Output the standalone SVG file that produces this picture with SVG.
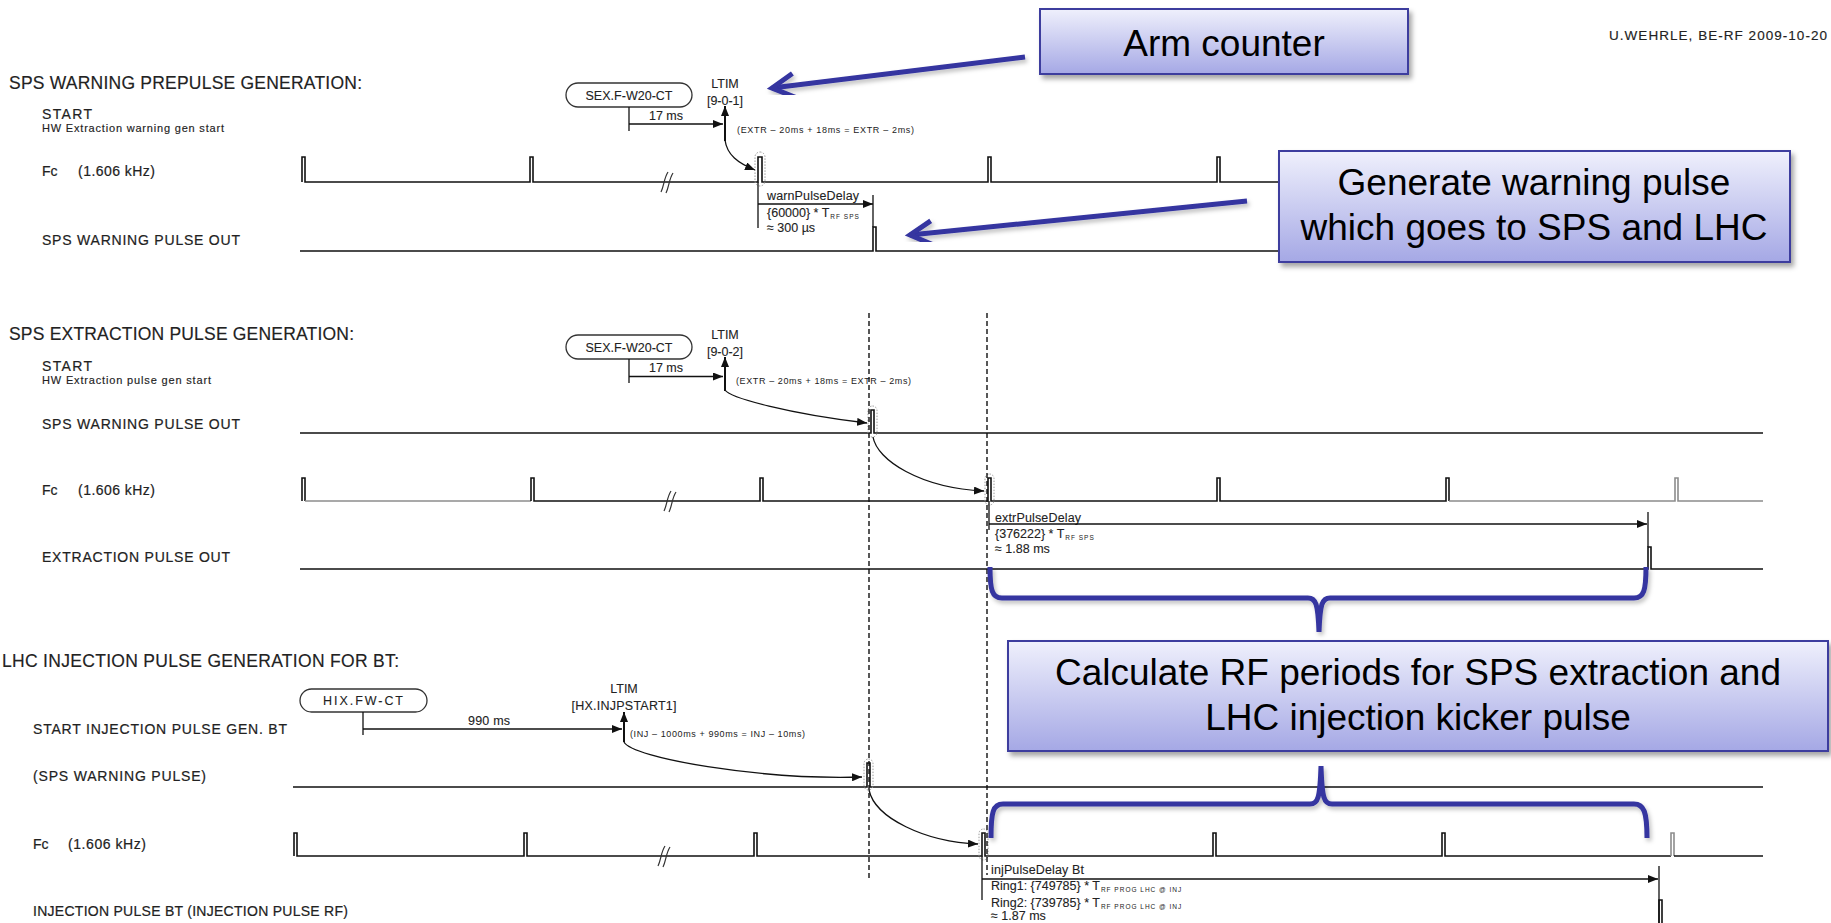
<svg xmlns="http://www.w3.org/2000/svg" width="1831" height="923" viewBox="0 0 1831 923">
<defs>
<style>
text{font-family:"Liberation Sans",Arial,sans-serif;fill:#222}
.hdr{font-size:17.5px;stroke:#222;stroke-width:0.15}
.lbl{font-size:14px;stroke:#222;stroke-width:0.2}
.lbs{font-size:11px;stroke:#222;stroke-width:0.15}
.sm{font-size:12.5px;stroke:#222;stroke-width:0.1}
.xs{font-size:9px}
.sub{font-size:6.5px}
.wide{letter-spacing:1px}
.mid{text-anchor:middle}
.end{text-anchor:end}
.note{font-size:37px;fill:#000;text-anchor:middle}
.wave{fill:none;stroke:#111;stroke-width:1.6}
.wg{fill:none;stroke:#8c8c8c;stroke-width:1.6}
.ln{fill:none;stroke:#111;stroke-width:1.3}
.arr{fill:none;stroke:#111;stroke-width:1.3;marker-end:url(#ah)}
.up{fill:none;stroke:#111;stroke-width:2;marker-end:url(#ah)}
.dash{fill:none;stroke:#111;stroke-width:1.4;stroke-dasharray:5 3}
.halo{fill:none;stroke:#9a9a9a;stroke-width:1;stroke-dasharray:1.5 1.5}
.pill{fill:#fff;stroke:#333;stroke-width:1.3}
.box{fill:url(#bg);stroke:#3d3d9e;stroke-width:2;filter:url(#sh)}
.call{fill:none;stroke:#3434a0;stroke-width:5;filter:url(#sh2)}
.brk{fill:none;stroke:#333;stroke-width:1.2}
</style>
<linearGradient id="bg" x1="0" y1="0" x2="0" y2="1"><stop offset="0" stop-color="#eff0fc"/><stop offset="1" stop-color="#a5a8e5"/></linearGradient>
<filter id="sh" x="-5%" y="-10%" width="115%" height="130%"><feDropShadow dx="3" dy="4" stdDeviation="2.5" flood-color="#000" flood-opacity="0.35"/></filter>
<filter id="sh2" x="-10%" y="-20%" width="120%" height="140%"><feDropShadow dx="2" dy="3" stdDeviation="2" flood-color="#000" flood-opacity="0.25"/></filter>
<marker id="ah" markerUnits="userSpaceOnUse" markerWidth="10" markerHeight="8" refX="10" refY="4" orient="auto" viewBox="0 0 10 8"><path d="M0,0 L10,4 L0,8 z" fill="#111"/></marker>
<marker id="chev" markerUnits="userSpaceOnUse" markerWidth="36" markerHeight="36" refX="28" refY="18" orient="auto" viewBox="0 0 36 36"><path d="M6,6 L28,18 L6,30" fill="none" stroke="#3434a0" stroke-width="5"/></marker>
</defs>
<rect width="1831" height="923" fill="#fff"/>

<g id="author"><text class="lbl end" x="1827" y="40" style="font-size:13.5px;stroke-width:0.15" textLength="218">U.WEHRLE, BE-RF 2009-10-20</text></g>

<!-- Section 1 -->
<g id="sec1-labels">
<text class="hdr" x="9" y="89" textLength="353">SPS WARNING PREPULSE GENERATION:</text>
<text class="lbl" x="42" y="119" textLength="50">START</text>
<text class="lbs" x="42" y="132" textLength="182">HW Extraction warning gen start</text>
<text class="lbl" x="42" y="176">Fc</text><text class="lbl" x="78" y="176" textLength="77">(1.606 kHz)</text>
<text class="lbl" x="42" y="245" textLength="198">SPS WARNING PULSE OUT</text>
</g>
<g id="sec1-pill"><rect class="pill" x="566" y="83" width="126" height="24" rx="12"/><text class="sm mid" x="629" y="100" textLength="87">SEX.F-W20-CT</text></g>
<g id="sec1-ltim"><text class="sm mid" x="725" y="88">LTIM</text><text class="sm mid" x="725" y="105">[9-0-1]</text></g>
<g id="sec1-fc"><path class="wave" d="M302,182 V157 H305 V182 H530 V157 H533 V182 H758 V157 H762 V182 H988 V157 H991 V182 H1217 V157 H1220 V182 H1763"/><rect class="halo" x="755" y="152" width="10" height="34" rx="5"/><path class="brk" d="M661,192 C664,186 664,178 668,172 M666,193 C669,187 669,179 673,173"/></g>
<g id="sec1-warn"><path class="wave" d="M300,251 H873 V227 H876 V251 H1763"/></g>
<g id="sec1-notes">
<text class="xs" x="737" y="133" textLength="177">(EXTR – 20ms + 18ms = EXTR – 2ms)</text>
<text class="sm" x="767" y="200" textLength="92">warnPulseDelay</text>
<text class="sm" x="767" y="217">{60000} * T<tspan class="sub wide" dx="1" dy="2" style="stroke:none">RF SPS</tspan></text>
<text class="sm" x="767" y="232">≈ 300 µs</text>
<text class="sm mid" x="666" y="120">17 ms</text>
</g>

<!-- Section 2 -->
<g id="sec2-labels">
<text class="hdr" x="9" y="340" textLength="345">SPS EXTRACTION PULSE GENERATION:</text>
<text class="lbl" x="42" y="370.5" textLength="50">START</text>
<text class="lbs" x="42" y="384" textLength="169">HW Extraction pulse gen start</text>
<text class="lbl" x="42" y="428.5" textLength="198">SPS WARNING PULSE OUT</text>
<text class="lbl" x="42" y="495">Fc</text><text class="lbl" x="78" y="495" textLength="77">(1.606 kHz)</text>
<text class="lbl" x="42" y="562" textLength="188">EXTRACTION PULSE OUT</text>
</g>
<g id="sec2-pill"><rect class="pill" x="566" y="335" width="126" height="24" rx="12"/><text class="sm mid" x="629" y="352" textLength="87">SEX.F-W20-CT</text></g>
<g id="sec2-ltim"><text class="sm mid" x="725" y="339">LTIM</text><text class="sm mid" x="725" y="356">[9-0-2]</text></g>
<g id="sec2-warn"><path class="wave" d="M300,433 H871 V410 H874 V433 H1763"/><rect class="halo" x="868" y="406" width="9" height="31" rx="4.5"/></g>
<g id="sec2-fc">
<path class="wave" d="M302,501 V478 H305 V501"/>
<path class="wg" d="M305,501 H531"/>
<path class="wave" d="M531,501 V478 H534 V501 H760 V478 H763 V501 H988 V478 H991 V501 H1217 V478 H1220 V501 H1446 V478 H1449 V501"/>
<path class="wg" d="M1449,501 H1675 V478 H1678 V501 H1763"/>
<rect class="halo" x="985" y="474" width="9" height="31" rx="4.5"/>
<path class="brk" d="M664,511 C667,505 667,497 671,491 M669,512 C672,506 672,498 676,492"/>
</g>
<g id="sec2-extr"><path class="wave" d="M300,569 H1648 V547 H1651 V569 H1763"/></g>
<g id="sec2-notes">
<text class="xs" x="736" y="383.5" textLength="175">(EXTR – 20ms + 18ms = EXTR – 2ms)</text>
<text class="sm mid" x="666" y="372">17 ms</text>
<text class="sm" x="995" y="521.5" textLength="86">extrPulseDelay</text>
<text class="sm" x="995" y="538">{376222} * T<tspan class="sub wide" dx="1" dy="2" style="stroke:none">RF SPS</tspan></text>
<text class="sm" x="995" y="553">≈ 1.88 ms</text>
</g>

<!-- Section 3 -->
<g id="sec3-labels">
<text class="hdr" x="2" y="667" textLength="397">LHC INJECTION PULSE GENERATION FOR BT:</text>
<text class="lbl" x="33" y="734" textLength="254">START INJECTION PULSE GEN. BT</text>
<text class="lbl" x="33" y="781" textLength="173">(SPS WARNING PULSE)</text>
<text class="lbl" x="33" y="849">Fc</text><text class="lbl" x="68" y="849" textLength="78">(1.606 kHz)</text>
<text class="lbl" x="33" y="916" textLength="315">INJECTION PULSE BT (INJECTION PULSE RF)</text>
</g>
<g id="sec3-pill"><rect class="pill" x="300" y="689" width="127" height="23" rx="11.5"/><text class="sm mid" x="363" y="705" textLength="80">HIX.FW-CT</text></g>
<g id="sec3-ltim"><text class="sm mid" x="624" y="692.5">LTIM</text><text class="sm mid" x="624" y="710" textLength="105">[HX.INJPSTART1]</text></g>
<g id="sec3-warn"><path class="wave" d="M293,787 H867 V763 H870 V787 H1763"/><rect class="halo" x="864" y="759" width="9" height="31" rx="4.5"/></g>
<g id="sec3-fc">
<path class="wave" d="M294,856 V833 H297 V856 H524 V833 H527 V856 H754 V833 H757 V856 H982 V833 H985 V856 H1213 V833 H1216 V856 H1442 V833 H1445 V856 H1671"/>
<path class="wg" d="M1671,856 V833 H1674 V856"/>
<path class="wave" d="M1674,856 H1763"/>
<rect class="halo" x="979" y="829" width="9" height="31" rx="4.5"/>
<path class="brk" d="M658,866 C661,860 661,852 665,846 M663,867 C666,861 666,853 670,847"/>
</g>
<g id="sec3-inj"><path class="wave" d="M1659,923 V900 H1662 V923"/></g>
<g id="sec3-notes">
<text class="sm" x="468" y="725" textLength="42">990 ms</text>
<text class="xs" x="630" y="737" textLength="175">(INJ – 1000ms + 990ms = INJ – 10ms)</text>
<text class="sm" x="991" y="874" textLength="93">injPulseDelay Bt</text>
<text class="sm" x="991" y="890">Ring1: {749785} * T<tspan class="sub wide" dx="1" dy="2" style="stroke:none">RF PROG LHC @ INJ</tspan></text>
<text class="sm" x="991" y="907">Ring2: {739785} * T<tspan class="sub wide" dx="1" dy="2" style="stroke:none">RF PROG LHC @ INJ</tspan></text>
<text class="sm" x="991" y="920">≈ 1.87 ms</text>
</g>

<!-- Connectors -->
<g id="connectors">
<path class="ln" d="M629,107 V131"/>
<path class="arr" d="M629,124 H723"/>
<path class="up" d="M725,141 V106"/>
<path class="arr" d="M725,140 C727,155 738,163 755,170"/>
<path class="ln" d="M758,182 V228 M873,195 V227"/>
<path class="arr" d="M758,204 H873"/>

<path class="ln" d="M629,359 V383"/>
<path class="arr" d="M629,376.5 H723"/>
<path class="up" d="M725,391 V357"/>
<path class="arr" d="M725,390 C730,398 790,414 867,423"/>
<path class="arr" d="M873,437 C877,460 920,488 984,491"/>
<path class="ln" d="M989,501 V530 M1648,512 V547"/>
<path class="arr" d="M989,524 H1647"/>

<path class="dash" d="M869,313 V880 M987,313 V875"/>

<path class="ln" d="M363,712 V735"/>
<path class="arr" d="M363,729 H622"/>
<path class="up" d="M624,742 V712"/>
<path class="arr" d="M624,742 C632,758 760,780 862,777"/>
<path class="arr" d="M869,790 C875,818 925,842 978,844"/>
<path class="ln" d="M982,856 V900 M1659,866 V923"/>
<path class="arr" d="M982,879 H1658"/>

<path class="call" d="M1025,57 L772,88" marker-end="url(#chev)"/>
<path class="call" d="M1247,201 L910,235" marker-end="url(#chev)"/>
<path class="call" d="M990,567 C990,590 992,598 1002,598 L1308,598 C1316,598 1318,604 1319,632 C1320,604 1322,598 1330,598 L1634,598 C1644,598 1646,590 1646,567"/>
<path class="call" d="M991,838 C991,812 993,804 1003,804 L1310,804 C1318,804 1320,798 1321,766 C1322,798 1324,804 1332,804 L1634,804 C1644,804 1647,812 1647,838"/>
</g>

<!-- Callout boxes -->
<g id="note-arm"><rect class="box" x="1040" y="9" width="368" height="65"/><text class="note" x="1224" y="56">Arm counter</text></g>
<g id="note-generate"><rect class="box" x="1279" y="151" width="511" height="111"/><text class="note" x="1534" y="195">Generate warning pulse</text><text class="note" x="1534" y="240">which goes to SPS and LHC</text></g>
<g id="note-calc"><rect class="box" x="1008" y="641" width="820" height="110"/><text class="note" x="1418" y="685">Calculate RF periods for SPS extraction and</text><text class="note" x="1418" y="730">LHC injection kicker pulse</text></g>
</svg>
